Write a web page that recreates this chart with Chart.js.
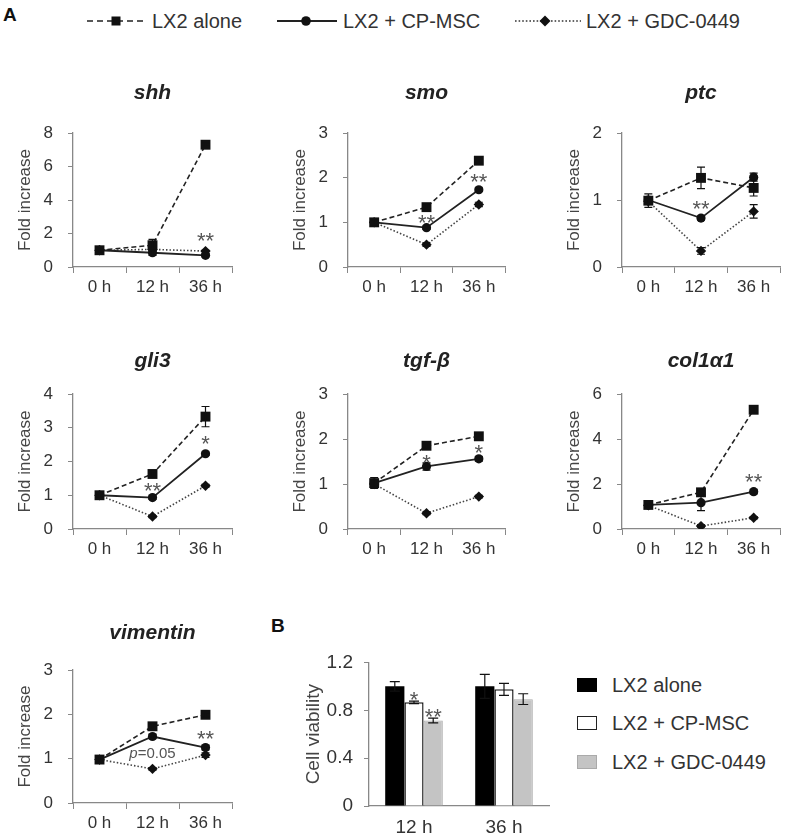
<!DOCTYPE html>
<html>
<head>
<meta charset="utf-8">
<title>Hedgehog pathway gene expression and cell viability</title>
<script src="https://cdn.jsdelivr.net/npm/chart.js@4.4.1/dist/chart.umd.min.js"></script>
<style>
  body { margin: 0; background: #fff; }
  #fig {
    position: relative;
    width: 787px;
    height: 836px;
    overflow: hidden;
    font-family: "Liberation Sans", Arial, sans-serif;
    color: #333;
  }
  #fig canvas { position: absolute; }
  .panel-label { position: absolute; font-weight: bold; font-size: 19px; line-height: 19px; color: #111; }
  .top-key { position: absolute; top: 11px; font-size: 20px; line-height: 20px; color: #333; white-space: nowrap; }
  .top-key-line { position: absolute; top: 14px; }
  .bar-key { position: absolute; left: 577px; font-size: 20px; line-height: 20px; color: #333; white-space: nowrap; }
  .bar-key i { position: absolute; left: 0; top: 3px; width: 20px; height: 14px; box-sizing: border-box; }
  .bar-key span { position: absolute; left: 35px; top: 0; }
</style>
</head>
<body>
<div id="fig">
  <div class="panel-label" style="left:3px; top:5px;">A</div>

  <svg class="top-key-line" style="left:85px" width="64" height="14">
    <line x1="2" y1="7" x2="62" y2="7" stroke="#222" stroke-width="1.6" stroke-dasharray="6 4"/>
    <rect x="26.5" y="2.5" width="9" height="9" fill="#111"/>
  </svg>
  <div class="top-key" style="left:152px">LX2 alone</div>

  <svg class="top-key-line" style="left:275px" width="64" height="14">
    <line x1="2" y1="7" x2="62" y2="7" stroke="#222" stroke-width="1.8"/>
    <circle cx="31" cy="7" r="4.8" fill="#111"/>
  </svg>
  <div class="top-key" style="left:343px">LX2 + CP-MSC</div>

  <svg class="top-key-line" style="left:513px" width="70" height="14">
    <line x1="2" y1="7" x2="68" y2="7" stroke="#333" stroke-width="1.6" stroke-dasharray="1.6 2"/>
    <path d="M32 1.5 L37.5 7 L32 12.5 L26.5 7 Z" fill="#111"/>
  </svg>
  <div class="top-key" style="left:586px">LX2 + GDC-0449</div>

  <div class="panel-label" style="left:271px; top:616px;">B</div>

  <div class="bar-key" style="top:675px"><i style="background:#000"></i><span>LX2 alone</span></div>
  <div class="bar-key" style="top:713px"><i style="background:#fff; border:1.5px solid #222"></i><span>LX2 + CP-MSC</span></div>
  <div class="bar-key" style="top:752px"><i style="background:#c4c4c4; border:1px solid #aaa"></i><span>LX2 + GDC-0449</span></div>
</div>

<script>
// ============================================================
// DATA — fold increase vs 0 h
// ============================================================

const HOURS = ["0 h", "12 h", "36 h"];
const SERIES_NAMES = ["LX2 alone", "LX2 + CP-MSC", "LX2 + GDC-0449"];

// shh
const shhAlone = [1.0, 1.3, 7.3];
const shhAloneErr = [0.1, 0.35, 0.1];
const shhCpmsc = [1.0, 0.85, 0.7];
const shhCpmscErr = [0, 0.15, 0.1];
const shhGdc = [1.0, 1.05, 0.95];
const shhGdcErr = [0, 0.05, 0.05];
const shhMarks = [{ i: 2, y: 1.9, text: "**" }];

// smo
const smoAlone = [1.0, 1.34, 2.38];
const smoAloneErr = [0.05, 0.07, 0.05];
const smoCpmsc = [1.0, 0.88, 1.73];
const smoCpmscErr = [0, 0.04, 0.04];
const smoGdc = [1.0, 0.5, 1.4];
const smoGdcErr = [0, 0.04, 0.05];
const smoMarks = [{ i: 1, y: 1.12, text: "**" }, { i: 2, y: 2.03, text: "**" }];

// ptc
const ptcAlone = [0.99, 1.33, 1.18];
const ptcAloneErr = [0.1, 0.16, 0.12];
const ptcCpmsc = [1.0, 0.73, 1.34];
const ptcCpmscErr = [0.05, 0.03, 0.06];
const ptcGdc = [0.98, 0.24, 0.83];
const ptcGdcErr = [0.03, 0.05, 0.1];
const ptcMarks = [{ i: 1, y: 0.95, text: "**" }];

// gli3
const gli3Alone = [1.0, 1.63, 3.33];
const gli3AloneErr = [0.05, 0.08, 0.3];
const gli3Cpmsc = [1.0, 0.93, 2.23];
const gli3CpmscErr = [0, 0.05, 0.05];
const gli3Gdc = [1.0, 0.37, 1.28];
const gli3GdcErr = [0, 0.03, 0.04];
const gli3Marks = [{ i: 1, y: 1.3, text: "**" }, { i: 2, y: 2.7, text: "*" }];

// tgf-β
const tgfAlone = [1.02, 1.85, 2.06];
const tgfAloneErr = [0.12, 0.05, 0.05];
const tgfCpmsc = [1.02, 1.39, 1.56];
const tgfCpmscErr = [0, 0.08, 0.05];
const tgfGdc = [1.0, 0.35, 0.72];
const tgfGdcErr = [0, 0.03, 0.03];
const tgfMarks = [{ i: 1, y: 1.6, text: "*" }, { i: 2, y: 1.82, text: "*" }];

// col1α1
const colAlone = [1.07, 1.63, 5.3];
const colAloneErr = [0.1, 0.1, 0.15];
const colCpmsc = [1.07, 1.17, 1.66];
const colCpmscErr = [0.05, 0.35, 0.1];
const colGdc = [1.05, 0.13, 0.5];
const colGdcErr = [0, 0.05, 0.05];
const colMarks = [{ i: 2, y: 2.35, text: "**" }];

// vimentin
const vimAlone = [0.98, 1.73, 1.99];
const vimAloneErr = [0.07, 0.05, 0.05];
const vimCpmsc = [0.98, 1.5, 1.25];
const vimCpmscErr = [0, 0.05, 0.05];
const vimGdc = [0.98, 0.77, 1.08];
const vimGdcErr = [0, 0.03, 0.05];
const vimMarks = [{ i: 2, y: 1.57, text: "**" }, { i: 1, y: 1.13, prefix: "p", text: "=0.05" }];

// B — cell viability
const VIAB_HOURS = ["12 h", "36 h"];
const viabAlone = [1.0, 1.0];
const viabAloneErr = [0.04, 0.1];
const viabCpmsc = [0.866, 0.975];
const viabCpmscErr = [0.01, 0.05];
const viabGdc = [0.715, 0.893];
const viabGdcErr = [0.02, 0.045];
const viabMarks = [{ i: 0, ds: 1, y: 0.935, text: "*" }, { i: 0, ds: 2, y: 0.79, text: "**" }];

// ============================================================
// LAYOUT / STYLE
// ============================================================

const FONT = "'Liberation Sans', Arial, sans-serif";
const AXIS_GREY = "#888";

const COL_LEFT = [73, 348, 622];
const COL_WIDTH = [162, 160, 161];
const ROW_TOP = [133, 394, 670];
const ROW_BOTTOM = [267, 529, 803];
const ROW_TITLE_Y = [93, 361, 633];
const Y_AXIS_W = 73;
const X_AXIS_H = 40;

const SERIES_STYLE = [
  { dash: [5, 3], color: "#222", point: "rect", radius: 7, width: 1.6 },
  { dash: [], color: "#222", point: "circle", radius: 4.6, width: 1.8 },
  { dash: [1.5, 2], color: "#444", point: "rectRot", radius: 5.2, width: 1.6 }
];

Chart.defaults.font.family = FONT;
Chart.defaults.color = "#333";

// ============================================================
// PLUGINS
// ============================================================

const errorBars = {
  id: "errorBars",
  afterDatasetsDraw(chart) {
    const ctx = chart.ctx;
    const yScale = chart.scales.y;
    const cap = chart.config.type === "bar" ? 5 : 4;

    ctx.save();
    ctx.strokeStyle = "#111";
    ctx.lineWidth = 1.2;

    chart.data.datasets.forEach((ds, i) => {
      if (!ds.errors) return;
      chart.getDatasetMeta(i).data.forEach((el, j) => {
        const e = ds.errors[j];
        if (!e) return;
        const hi = yScale.getPixelForValue(ds.data[j] + e);
        const lo = yScale.getPixelForValue(Math.max(ds.data[j] - e, 0));
        ctx.beginPath();
        ctx.moveTo(el.x, hi);
        ctx.lineTo(el.x, lo);
        ctx.moveTo(el.x - cap, hi);
        ctx.lineTo(el.x + cap, hi);
        ctx.moveTo(el.x - cap, lo);
        ctx.lineTo(el.x + cap, lo);
        ctx.stroke();
      });
    });

    ctx.restore();
  }
};

// significance stars / p value, placed by category index and value
function marksPlugin(marks) {
  return {
    id: "marks",
    afterDatasetsDraw(chart) {
      const ctx = chart.ctx;
      ctx.save();
      ctx.fillStyle = "#555";
      ctx.textBaseline = "alphabetic";

      marks.forEach(m => {
        const x = m.ds != null
          ? chart.getDatasetMeta(m.ds).data[m.i].x
          : chart.scales.x.getPixelForValue(m.i);
        const y = chart.scales.y.getPixelForValue(m.y);

        if (m.prefix) {
          const size = 15;
          ctx.font = `italic ${size}px ${FONT}`;
          const pw = ctx.measureText(m.prefix).width;
          ctx.font = `${size}px ${FONT}`;
          const tw = ctx.measureText(m.text).width;
          const left = x - (pw + tw) / 2;
          const base = y + size * 0.36;
          ctx.textAlign = "left";
          ctx.font = `italic ${size}px ${FONT}`;
          ctx.fillText(m.prefix, left, base);
          ctx.font = `${size}px ${FONT}`;
          ctx.fillText(m.text, left + pw, base);
        } else {
          const size = 22;
          ctx.font = `${size}px ${FONT}`;
          ctx.textAlign = "center";
          ctx.fillText(m.text, x, y + size * 0.58);
        }
      });

      ctx.restore();
    }
  };
}

// ============================================================
// CANVAS HELPER
// ============================================================

function addCanvas(left, top, width, height) {
  const canvas = document.createElement("canvas");
  canvas.width = width;
  canvas.height = height;
  canvas.style.left = left + "px";
  canvas.style.top = top + "px";
  canvas.style.width = width + "px";
  canvas.style.height = height + "px";
  document.getElementById("fig").appendChild(canvas);
  return canvas;
}

// ============================================================
// LINE PANELS (A)
// ============================================================

function linePanel(cfg) {
  const left = COL_LEFT[cfg.col] - Y_AXIS_W;
  const top = ROW_TITLE_Y[cfg.row] - 20;
  const width = Y_AXIS_W + COL_WIDTH[cfg.col] + 4;
  const height = ROW_BOTTOM[cfg.row] - top + X_AXIS_H;
  const titleBlock = ROW_TOP[cfg.row] - top;

  const canvas = addCanvas(left, top, width, height);

  const datasets = cfg.series.map((s, k) => {
    const st = SERIES_STYLE[k];
    return {
      label: SERIES_NAMES[k],
      data: s[0],
      errors: s[1],
      borderColor: st.color,
      borderWidth: st.width,
      borderDash: st.dash,
      pointStyle: st.point,
      pointRadius: st.radius,
      pointBackgroundColor: "#111",
      pointBorderColor: "#111",
      pointBorderWidth: 0,
      tension: 0,
      fill: false
    };
  });

  return new Chart(canvas, {
    type: "line",
    data: { labels: HOURS, datasets },
    plugins: [errorBars, marksPlugin(cfg.marks)],
    options: {
      responsive: false,
      animation: false,
      events: [],
      layout: { padding: { left: 0, right: 4, top: 0, bottom: 0 } },
      plugins: {
        legend: { display: false },
        tooltip: { enabled: false },
        title: {
          display: true,
          text: cfg.title,
          fullSize: false,
          color: "#222",
          font: { size: 21, weight: "bold", style: "italic", lineHeight: 1.2 },
          padding: { top: 20 - 12.6, bottom: titleBlock - 20 - 12.6 }
        }
      },
      scales: {
        x: {
          type: "category",
          offset: true,
          grid: { offset: true, drawOnChartArea: false, drawTicks: true, tickLength: 6, color: AXIS_GREY },
          border: { color: AXIS_GREY, width: 1.3 },
          ticks: { font: { size: 17 }, padding: 4, color: "#333" },
          afterFit: s => { s.height = X_AXIS_H; }
        },
        y: {
          min: 0,
          max: cfg.yMax,
          ticks: { stepSize: cfg.yStep, font: { size: 17 }, padding: 15, color: "#333" },
          grid: { drawOnChartArea: false, drawTicks: true, tickLength: 5, color: AXIS_GREY },
          border: { color: AXIS_GREY, width: 1.3 },
          title: {
            display: true,
            text: "Fold increase",
            color: "#444",
            font: { size: 17 },
            padding: { top: 15, bottom: 0 }
          },
          afterFit: s => { s.width = Y_AXIS_W; }
        }
      }
    }
  });
}

linePanel({ col: 0, row: 0, title: "shh", yMax: 8, yStep: 2, marks: shhMarks,
  series: [[shhAlone, shhAloneErr], [shhCpmsc, shhCpmscErr], [shhGdc, shhGdcErr]] });
linePanel({ col: 1, row: 0, title: "smo", yMax: 3, yStep: 1, marks: smoMarks,
  series: [[smoAlone, smoAloneErr], [smoCpmsc, smoCpmscErr], [smoGdc, smoGdcErr]] });
linePanel({ col: 2, row: 0, title: "ptc", yMax: 2, yStep: 1, marks: ptcMarks,
  series: [[ptcAlone, ptcAloneErr], [ptcCpmsc, ptcCpmscErr], [ptcGdc, ptcGdcErr]] });
linePanel({ col: 0, row: 1, title: "gli3", yMax: 4, yStep: 1, marks: gli3Marks,
  series: [[gli3Alone, gli3AloneErr], [gli3Cpmsc, gli3CpmscErr], [gli3Gdc, gli3GdcErr]] });
linePanel({ col: 1, row: 1, title: "tgf-β", yMax: 3, yStep: 1, marks: tgfMarks,
  series: [[tgfAlone, tgfAloneErr], [tgfCpmsc, tgfCpmscErr], [tgfGdc, tgfGdcErr]] });
linePanel({ col: 2, row: 1, title: "col1α1", yMax: 6, yStep: 2, marks: colMarks,
  series: [[colAlone, colAloneErr], [colCpmsc, colCpmscErr], [colGdc, colGdcErr]] });
linePanel({ col: 0, row: 2, title: "vimentin", yMax: 3, yStep: 1, marks: vimMarks,
  series: [[vimAlone, vimAloneErr], [vimCpmsc, vimCpmscErr], [vimGdc, vimGdcErr]] });

// ============================================================
// BAR PANEL (B)
// ============================================================

function barPanel() {
  const plotLeft = 369, plotRight = 549, plotTop = 652, plotBottom = 806;
  const yAxisW = 75;
  const left = plotLeft - yAxisW;
  const top = plotTop - 12;
  const xAxisH = 30;
  const canvas = addCanvas(left, top, plotRight - left + 4, plotBottom - top + xAxisH);

  return new Chart(canvas, {
    type: "bar",
    data: {
      labels: VIAB_HOURS,
      datasets: [
        { label: SERIES_NAMES[0], data: viabAlone, errors: viabAloneErr,
          backgroundColor: "#000", borderWidth: 0 },
        { label: SERIES_NAMES[1], data: viabCpmsc, errors: viabCpmscErr,
          backgroundColor: "#fff", borderColor: "#222", borderWidth: 1.5 },
        { label: SERIES_NAMES[2], data: viabGdc, errors: viabGdcErr,
          backgroundColor: "#c4c4c4", borderColor: "#aaa", borderWidth: 1 }
      ]
    },
    plugins: [errorBars, marksPlugin(viabMarks)],
    options: {
      responsive: false,
      animation: false,
      events: [],
      categoryPercentage: 0.64,
      barPercentage: 1.0,
      layout: { padding: { left: 0, right: 4, top: 12, bottom: 0 } },
      plugins: { legend: { display: false }, tooltip: { enabled: false } },
      scales: {
        x: {
          grid: { display: false, drawTicks: false },
          border: { color: AXIS_GREY, width: 1.3 },
          ticks: { font: { size: 19 }, padding: 10, color: "#333" },
          afterFit: s => { s.height = xAxisH; }
        },
        y: {
          min: 0,
          max: 1.2,
          ticks: { stepSize: 0.4, font: { size: 19 }, padding: 11, color: "#333" },
          grid: { drawOnChartArea: false, drawTicks: true, tickLength: 5, color: AXIS_GREY },
          border: { color: AXIS_GREY, width: 1.3 },
          title: {
            display: true,
            text: "Cell viability",
            color: "#444",
            font: { size: 19 },
            padding: { top: 8, bottom: 0 }
          },
          afterFit: s => { s.width = yAxisW; }
        }
      }
    }
  });
}

barPanel();
</script>
</body>
</html>
